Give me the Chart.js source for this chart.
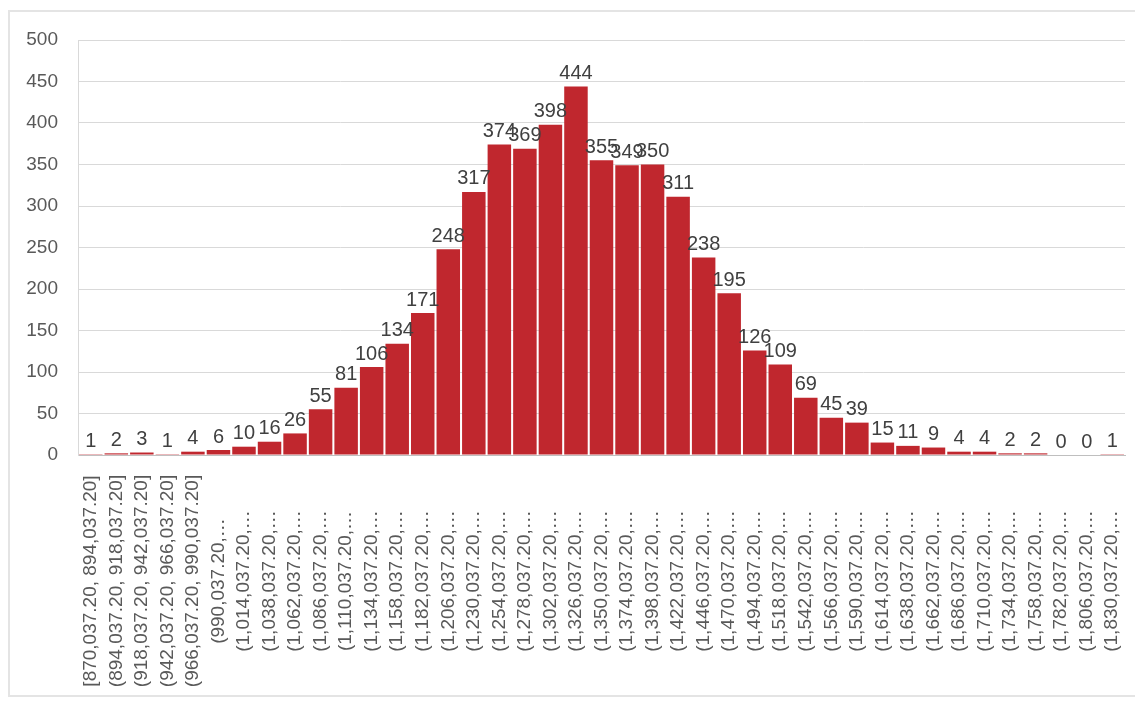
<!DOCTYPE html>
<html>
<head>
<meta charset="utf-8">
<script src="https://cdn.jsdelivr.net/npm/chart.js@4"></script>
<style>
  html, body { margin: 0; padding: 0; background: #fff; }
  canvas { display: block; }
</style>
</head>
<body>
<canvas id="histChart" width="1135" height="704"></canvas>
<script>
// bin labels, as Excel shows them (long ones cut off)
const binLabels = [
  '[870,037.20, 894,037.20]',
  '(894,037.20, 918,037.20]',
  '(918,037.20, 942,037.20]',
  '(942,037.20, 966,037.20]',
  '(966,037.20, 990,037.20]',
  '(990,037.20,…',
  '(1,014,037.20,…',
  '(1,038,037.20,…',
  '(1,062,037.20,…',
  '(1,086,037.20,…',
  '(1,110,037.20,…',
  '(1,134,037.20,…',
  '(1,158,037.20,…',
  '(1,182,037.20,…',
  '(1,206,037.20,…',
  '(1,230,037.20,…',
  '(1,254,037.20,…',
  '(1,278,037.20,…',
  '(1,302,037.20,…',
  '(1,326,037.20,…',
  '(1,350,037.20,…',
  '(1,374,037.20,…',
  '(1,398,037.20,…',
  '(1,422,037.20,…',
  '(1,446,037.20,…',
  '(1,470,037.20,…',
  '(1,494,037.20,…',
  '(1,518,037.20,…',
  '(1,542,037.20,…',
  '(1,566,037.20,…',
  '(1,590,037.20,…',
  '(1,614,037.20,…',
  '(1,638,037.20,…',
  '(1,662,037.20,…',
  '(1,686,037.20,…',
  '(1,710,037.20,…',
  '(1,734,037.20,…',
  '(1,758,037.20,…',
  '(1,782,037.20,…',
  '(1,806,037.20,…',
  '(1,830,037.20,…',
];

const counts = [
  1, 2, 3, 1, 4, 6, 10, 16, 26, 55,
  81, 106, 134, 171, 248, 317, 374, 369, 398, 444,
  355, 349, 350, 311, 238, 195, 126, 109, 69, 45,
  39, 15, 11, 9, 4, 4, 2, 2, 0, 0,
  1,
];

const yMin = 0;
const yMax = 500;
const yStep = 50;

// value above each bar
const barValues = {
  id: 'barValues',
  afterDatasetsDraw(chart) {
    const ctx = chart.ctx;
    const meta = chart.getDatasetMeta(0);
    ctx.save();
    ctx.font = '20px "Liberation Sans", Arial, sans-serif';
    ctx.fillStyle = '#404040';
    ctx.textAlign = 'center';
    ctx.textBaseline = 'bottom';
    meta.data.forEach((bar, i) => {
      ctx.fillText(String(counts[i]), bar.x, bar.y - 3);
    });
    ctx.restore();
  }
};

// rotated category labels, centred in the space under the axis
const binTicks = {
  id: 'binTicks',
  afterDraw(chart) {
    const ctx = chart.ctx;
    const xs = chart.scales.x;
    const mid = xs.top + 126;
    ctx.save();
    ctx.font = '19px "Liberation Sans", Arial, sans-serif';
    ctx.fillStyle = '#595959';
    ctx.textAlign = 'center';
    ctx.textBaseline = 'middle';
    binLabels.forEach((lab, i) => {
      ctx.save();
      ctx.translate(xs.getPixelForValue(i), mid);
      ctx.rotate(-Math.PI / 2);
      ctx.fillText(lab, 0, 0);
      ctx.restore();
    });
    ctx.restore();
  }
};

// white background + faint chart frame
const frame = {
  id: 'frame',
  beforeDraw(chart) {
    const ctx = chart.ctx;
    ctx.save();
    ctx.fillStyle = '#ffffff';
    ctx.fillRect(0, 0, chart.width, chart.height);
    ctx.strokeStyle = '#e4e4e4';
    ctx.lineWidth = 2;
    ctx.strokeRect(9, 11, chart.width + 10, chart.height - 19);
    ctx.restore();
  }
};

var ctx = document.querySelector('#histChart').getContext('2d');
var chart = new Chart(ctx, {
  type: 'bar',
  data: {
    labels: binLabels,
    datasets: [
      {
        label: 'Frequency',
        data: counts,
        backgroundColor: '#C0272E',
        borderWidth: 0,
        barPercentage: 0.92,
        categoryPercentage: 1.0,
      },
    ],
  },
  options: {
    responsive: false,
    animation: false,
    devicePixelRatio: 1,
    layout: {
      padding: { top: 40, right: 10, bottom: 0, left: 0 },
    },
    plugins: {
      legend: { display: false },
      tooltip: { enabled: false },
    },
    scales: {
      x: {
        grid: { display: false },
        border: { display: true, color: '#bfbfbf', width: 1 },
        ticks: { display: false },
        afterFit(scale) { scale.height = 249; },
      },
      y: {
        min: yMin,
        max: yMax,
        ticks: {
          stepSize: yStep,
          padding: 20,
          color: '#595959',
          font: { family: '"Liberation Sans", Arial, sans-serif', size: 19 },
        },
        grid: { color: '#d9d9d9', drawTicks: false },
        border: { display: true, color: '#d9d9d9' },
        afterFit(scale) { scale.width = 78; },
      },
    },
  },
  plugins: [frame, barValues, binTicks],
});
</script>
</body>
</html>
